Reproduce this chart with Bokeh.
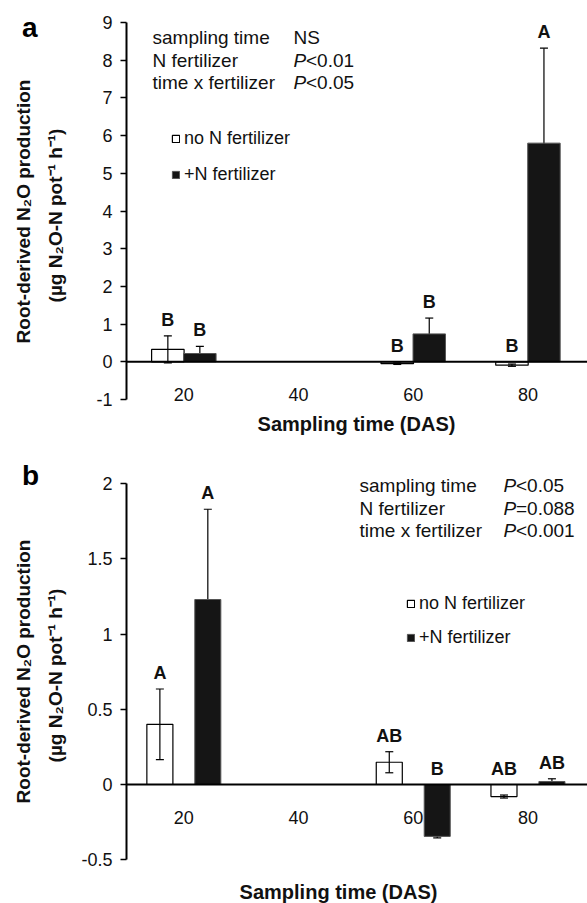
import numpy as np
from bokeh.plotting import figure
from bokeh.layouts import column, row
from bokeh.models import Range1d, FixedTicker, Span, Label, Legend, LegendItem
from bokeh.core.properties import value
from bokeh.embed import file_html
from bokeh.resources import INLINE

# ---------------- data ----------------
categories = ["20", "40", "60", "80"]
cat_pos = [1, 2, 3, 4]

# panel a
a_none_mean = [0.33, np.nan, -0.05, -0.09]
a_none_se = [0.36, np.nan, 0.02, 0.03]
a_fert_mean = [0.22, np.nan, 0.74, 5.80]
a_fert_se = [0.19, np.nan, 0.42, 2.52]
a_none_letters = ["B", "", "B", "B"]
a_fert_letters = ["B", "", "B", "A"]
a_yticks = [-1, 0, 1, 2, 3, 4, 5, 6, 7, 8, 9]
a_ytick_labels = ["-1", "0", "1", "2", "3", "4", "5", "6", "7", "8", "9"]
a_stat_names = ["sampling time", "N fertilizer", "time x fertilizer"]
a_stat_values = ["NS", "P<0.01", "P<0.05"]

# panel b
b_none_mean = [0.40, np.nan, 0.148, -0.08]
b_none_se = [0.235, np.nan, 0.07, 0.01]
b_fert_mean = [1.23, np.nan, -0.345, 0.02]
b_fert_se = [0.60, np.nan, 0.01, 0.018]
b_none_letters = ["A", "", "AB", "AB"]
b_fert_letters = ["A", "", "B", "AB"]
b_yticks = [-0.5, 0, 0.5, 1, 1.5, 2]
b_ytick_labels = ["-0.5", "0", "0.5", "1", "1.5", "2"]
b_stat_names = ["sampling time", "N fertilizer", "time x fertilizer"]
b_stat_values = ["P<0.05", "P=0.088", "P<0.001"]

legend_labels = ["no N fertilizer", "+N fertilizer"]
x_title = "Sampling time (DAS)"
y_title1 = "Root-derived N\u2082O production"
y_title2 = "(\u00b5g N\u2082O-N pot\u207b\u00b9 h\u207b\u00b9)"

FONT = "Liberation Sans"
TXT = "#111111"
LW = 78             # width of the side strip holding the panel letter and y titles
MW = 587 - LW       # width of the main figure
AXL = 126 - LW      # left border of main figure -> frame left at page x 126
XSCALE = 114.7      # px per category
X0 = 0.5
X1 = X0 + (MW - AXL) / XSCALE


def side_strip(height, letter, letter_base, ylab_cy):
    s = figure(width=LW, height=height, output_backend="svg", toolbar_location=None, title=None,
               x_range=Range1d(0, LW), y_range=Range1d(height, 0),
               x_axis_location=None, y_axis_location=None,
               min_border_left=0, min_border_right=0, min_border_top=0, min_border_bottom=0)
    s.xgrid.visible = False
    s.ygrid.visible = False
    s.outline_line_color = None
    s.add_layout(Label(x=21.5, y=letter_base, text=letter, text_font=FONT, text_font_size="28px",
                       text_font_style="bold", text_baseline="alphabetic", text_align="left",
                       text_color="black"))
    s.add_layout(Label(x=23, y=ylab_cy, text=y_title1, angle=np.pi / 2, text_font=FONT,
                       text_font_size="19px", text_font_style="bold", text_align="center",
                       text_baseline="middle", text_color=TXT))
    s.add_layout(Label(x=55, y=ylab_cy + 4, text=y_title2, angle=np.pi / 2, text_font=FONT,
                       text_font_size="19px", text_font_style="bold", text_align="center",
                       text_baseline="middle", text_color=TXT))
    return s


def whiskers(p, xs, m, s, cap):
    p.segment(x0=xs, y0=m - s, x1=xs, y1=m + s, line_color="black", line_width=1.2)
    p.segment(x0=xs - cap, y0=m + s, x1=xs + cap, y1=m + s, line_color="black", line_width=1.2)
    p.segment(x0=xs - cap, y0=m - s, x1=xs + cap, y1=m - s, line_color="black", line_width=1.2)


def main_panel(none_mean, none_se, fert_mean, fert_se, none_let, fert_let,
               yticks, ytick_labels, stat_names, stat_values,
               height, yr, yscale, zero_page, page_top, bar_w, bar_off,
               legend_loc, legend_spacing, stat_xy, xtitle_xy):
    # frame covers the full height; the y axis is limited with bounds
    ymax = (zero_page - page_top) / yscale
    ymin = ymax - height / yscale
    p = figure(width=MW, height=height, output_backend="svg", toolbar_location=None,
               title=None, x_range=Range1d(X0, X1), y_range=Range1d(ymin, ymax),
               x_axis_location=None, min_border_left=AXL, min_border_right=0,
               min_border_top=0, min_border_bottom=0)
    p.xgrid.visible = False
    p.ygrid.visible = False
    p.outline_line_color = None
    p.background_fill_color = "white"

    def dx(px):
        return X0 + (px - 126) / XSCALE

    def dy(py):
        return (zero_page - py) / yscale

    ax = p.yaxis[0]
    ax.bounds = (yr[0], yr[1])
    ax.ticker = FixedTicker(ticks=yticks)
    ax.major_label_overrides = {t: l for t, l in zip(yticks, ytick_labels)}
    ax.axis_line_width = 2
    ax.major_tick_in = 0
    ax.major_tick_out = 6
    ax.major_tick_line_width = 1.5
    ax.minor_tick_line_color = None
    ax.major_label_standoff = 8
    ax.major_label_text_font = FONT
    ax.major_label_text_font_size = "18px"
    ax.major_label_text_color = TXT

    nm = np.array(none_mean, dtype=float)
    ns = np.array(none_se, dtype=float)
    fm = np.array(fert_mean, dtype=float)
    fs = np.array(fert_se, dtype=float)
    cp = np.array(cat_pos, dtype=float)
    keep = ~np.isnan(nm)

    xn = cp[keep] - bar_off
    xf = cp[keep] + bar_off
    cap = 4.0 / XSCALE

    r_none = p.vbar(x=xn, top=nm[keep], bottom=0, width=bar_w,
                    fill_color="white", line_color="black", line_width=1.2)
    whiskers(p, xn, nm[keep], ns[keep], cap)
    # the black bars are drawn over their whiskers, which hides the inner half
    whiskers(p, xf, fm[keep], fs[keep], cap)
    r_fert = p.vbar(x=xf, top=fm[keep], bottom=0, width=bar_w,
                    fill_color="#151515", line_color="#555555", line_width=1)

    # significance letters
    lt_x = np.concatenate([xn, xf])
    lt_anchor = np.concatenate([np.maximum(nm[keep] + ns[keep], 0),
                                np.maximum(fm[keep] + fs[keep], 0)])
    lt_text = [t for t, k in zip(none_let, keep) if k] + [t for t, k in zip(fert_let, keep) if k]
    p.text(x=lt_x, y=lt_anchor, text=lt_text, text_font=value(FONT), text_font_style="bold",
           text_font_size="18px", text_align="center", text_baseline="middle", y_offset=-16,
           text_color=TXT)

    # zero line with category labels
    p.add_layout(Span(location=0, dimension="width", line_color="black", line_width=2))
    p.text(x=cp, y=np.zeros(len(cp)), text=categories, text_font=value(FONT),
           text_font_size="18px", text_align="center", text_baseline="middle", y_offset=33,
           text_color=TXT)

    # legend
    legend = Legend(items=[LegendItem(label=legend_labels[0], renderers=[r_none]),
                           LegendItem(label=legend_labels[1], renderers=[r_fert])],
                    location=legend_loc, glyph_width=9, glyph_height=9, label_standoff=4,
                    spacing=legend_spacing, padding=0, margin=0, border_line_alpha=0,
                    background_fill_alpha=0, label_text_font=FONT, label_text_font_size="18px",
                    label_height=20, label_text_color=TXT)
    p.add_layout(legend)

    # statistics text
    c1, c2, y0, step = stat_xy
    for i, (nme, val) in enumerate(zip(stat_names, stat_values)):
        py = y0 + i * step
        p.add_layout(Label(x=dx(c1), y=dy(py), text=nme, text_font=FONT, text_font_size="19px",
                           text_baseline="middle", text_align="left", text_color=TXT))
        if val.startswith("P"):
            p.add_layout(Label(x=dx(c2), y=dy(py), text="P", text_font=FONT, text_font_size="19px",
                               text_font_style="italic", text_baseline="middle", text_align="left",
                               text_color=TXT))
            p.add_layout(Label(x=dx(c2), y=dy(py), x_offset=12.5, text=val[1:], text_font=FONT,
                               text_font_size="19px", text_baseline="middle", text_align="left",
                               text_color=TXT))
        else:
            p.add_layout(Label(x=dx(c2), y=dy(py), text=val, text_font=FONT, text_font_size="19px",
                               text_baseline="middle", text_align="left", text_color=TXT))

    # x axis title
    p.add_layout(Label(x=dx(xtitle_xy[0]), y=dy(xtitle_xy[1]), text=x_title, text_font=FONT,
                       text_font_size="20px", text_font_style="bold", text_align="center",
                       text_baseline="middle", text_color=TXT))
    return p


H_A = 448
H_B = 903 - H_A

pa = main_panel(a_none_mean, a_none_se, a_fert_mean, a_fert_se, a_none_letters, a_fert_letters,
                a_yticks, a_ytick_labels, a_stat_names, a_stat_values,
                height=H_A, yr=(-1, 9), yscale=37.7, zero_page=361.3, page_top=0,
                bar_w=0.283, bar_off=0.1395, legend_loc=(45, 263), legend_spacing=15,
                stat_xy=(152, 293, 37, 22.7), xtitle_xy=(356, 423))

pb = main_panel(b_none_mean, b_none_se, b_fert_mean, b_fert_se, b_none_letters, b_fert_letters,
                b_yticks, b_ytick_labels, b_stat_names, b_stat_values,
                height=H_B, yr=(-0.5, 2), yscale=150.4, zero_page=784.0, page_top=H_A,
                bar_w=0.227, bar_off=0.209, legend_loc=(280, 255), legend_spacing=13,
                stat_xy=(359, 503, 485, 22.7), xtitle_xy=(338, 891))

sa = side_strip(H_A, "a", 27, 211)
sb = side_strip(H_B, "b", 475 - H_A, 671 - H_A)

layout = column(row(sa, pa), row(sb, pb))
open("out.html", "w").write(file_html(layout, INLINE))
